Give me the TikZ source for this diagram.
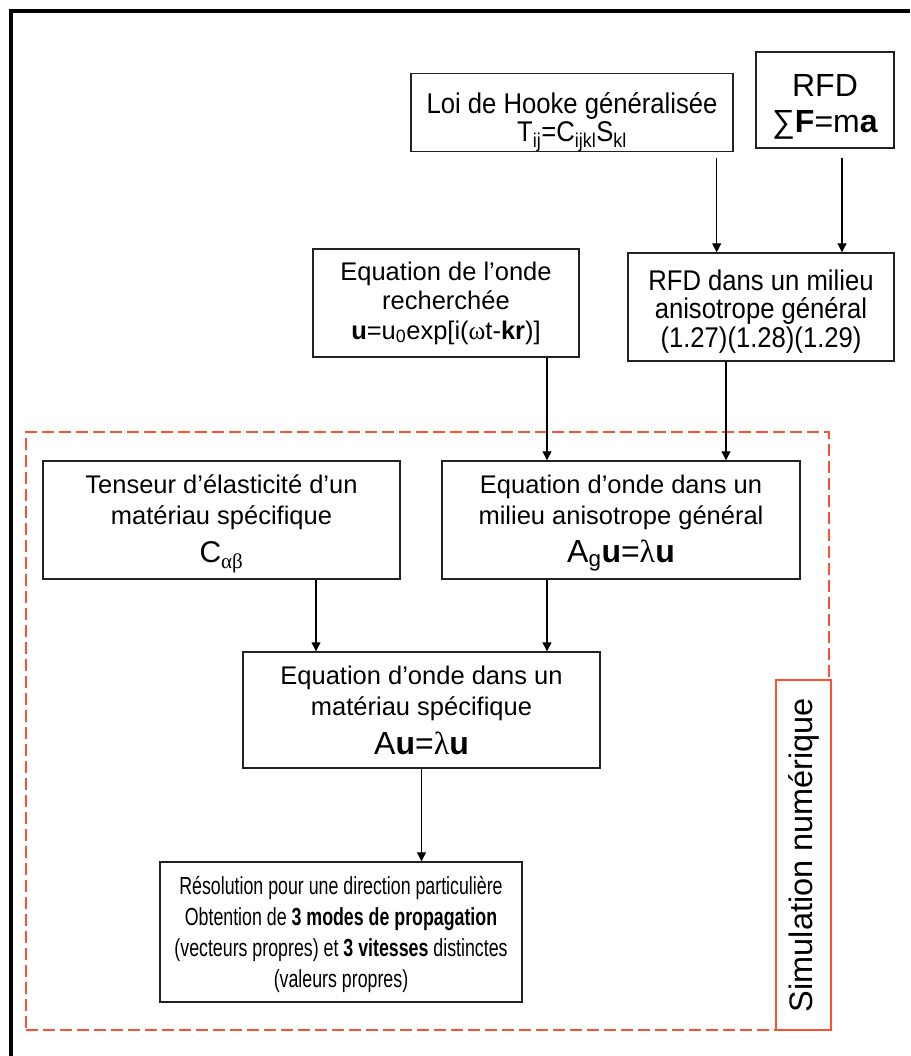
\documentclass[tikz,border=0pt]{standalone}
\usepackage{fontspec}
\setmainfont{Liberation Sans}
\newfontfamily\grkfont{Liberation Serif}
\newfontfamily\narrowfont{Liberation Sans}[FakeStretch=0.72]
\newfontfamily\tallfont{Liberation Sans}[FakeStretch=0.9]
\usetikzlibrary{positioning, arrows.meta}
\definecolor{clrborder}{HTML}{222222}
\definecolor{clrframe}{HTML}{FF5030}
\definecolor{clrtext}{HTML}{000000}
\newcommand{\grk}[1]{{\grkfont #1}}
\newcommand{\strutup}[1]{\rule{0pt}{#1}}

\begin{document}
\begin{tikzpicture}[
    x=1pt, y=-1pt,
    >={Triangle[length=9pt, width=9pt]},
    every node/.style={font=\fontsize{25.5}{31}\selectfont, text=clrtext},
    block/.style={draw=clrborder, line width=1.4pt, align=center, inner sep=0pt},
    arrow/.style={->, line width=1.1pt, color=black},
    group/.style={draw=clrframe, line width=1.5pt, inner sep=0pt},
]
\useasboundingbox (0,0) rectangle (910,1056);
% outer frame (only top and left edges are inside the page)
\draw[line width=4pt] (11,1056) -- (11,11) -- (910,11);
% numerical simulation group
\node[group, dash pattern=on 12pt off 5pt, minimum width=803pt, minimum height=598pt] (g_0) at (427.5,731) {};
% blocks
\node[block, minimum width=322pt, minimum height=77pt, font=\tallfont\fontsize{28.5}{28}\selectfont] (n_1) at (572,112.5)
    {\strutup{40pt}Loi de Hooke généralisée\\T\textsubscript{ij}=C\textsubscript{ijkl}S\textsubscript{kl}};
\node[block, minimum width=138pt, minimum height=96pt, font=\fontsize{32}{36}\selectfont] (n_2) at (825,100)
    {\strutup{36pt}RFD\\∑\textbf{F}=m\textbf{a}};
\node[block, minimum width=266pt, minimum height=108pt, font=\tallfont\fontsize{28.5}{28.5}\selectfont] (n_3) at (761,307)
    {\strutup{29pt}RFD dans un milieu\\anisotrope général\\(1.27)(1.28)(1.29)};
\node[block, minimum width=266pt, minimum height=108pt, font=\fontsize{25.5}{29.5}\selectfont] (n_4) at (446,303)
    {Equation de l’onde\\recherchée\\\textbf{u}=u\textsubscript{0}exp[i(\grk{ω}t-\textbf{kr})]};
\node[block, minimum width=357pt, minimum height=118pt] (n_5) at (221.5,520)
    {\strutup{26pt}Tenseur d’élasticité d’un\\matériau spécifique\\[7pt]{\fontsize{30}{36}\selectfont C\textsubscript{\grk{αβ}}}};
\node[block, minimum width=358pt, minimum height=118pt] (n_6) at (621,520)
    {\strutup{25pt}Equation d’onde dans un\\milieu anisotrope général\\[7pt]{\fontsize{32}{36}\selectfont A\textsubscript{g}\textbf{u}=\grk{λ}\textbf{u}}};
\node[block, minimum width=357pt, minimum height=116pt] (n_7) at (421.5,710)
    {Equation d’onde dans un\\matériau spécifique\\[8pt]{\fontsize{32}{36}\selectfont A\textbf{u}=\grk{λ}\textbf{u}}};
\node[block, minimum width=362pt, minimum height=140pt, font=\narrowfont\fontsize{24.7}{31}\selectfont] (n_8) at (341,932)
    {\strutup{24pt}Résolution pour une direction particulière\\Obtention de \textbf{3 modes de propagation}\\(vecteurs propres) et \textbf{3 vitesses} distinctes\\(valeurs propres)};
\node[group, fill=white, rotate=90, minimum width=350pt, minimum height=55pt, font=\fontsize{32.5}{36}\selectfont] (g_0_badge) at (803.5,855)
    {Simulation numérique};
% arrows
\coordinate (a_1) at ([xshift=-17pt]n_1.south east);
\coordinate (a_2) at ([xshift=17pt]n_2.south);
\coordinate (a_3) at ([xshift=101pt]n_4.south);
\coordinate (a_4) at ([xshift=-35pt]n_3.south);
\coordinate (a_5) at ([xshift=94.5pt]n_5.south);
\coordinate (a_6) at ([xshift=-74pt]n_6.south);
\draw[arrow, shorten <=6pt] (a_1) -- (a_1 |- n_3.north);
\draw[arrow, shorten <=9pt] (a_2) -- (a_2 |- n_3.north);
\draw[arrow] (a_3) -- (a_3 |- n_6.north);
\draw[arrow] (a_4) -- (a_4 |- n_6.north);
\draw[arrow] (a_5) -- (a_5 |- n_7.north);
\draw[arrow] (a_6) -- (a_6 |- n_7.north);
\draw[arrow] (n_7.south) -- (n_7.south |- n_8.north);
\end{tikzpicture}
\end{document}
